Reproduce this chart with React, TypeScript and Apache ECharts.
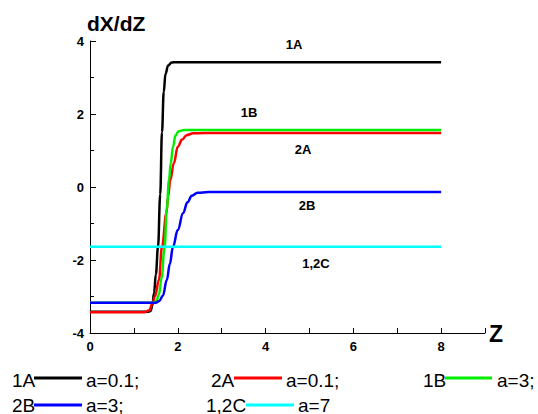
import React, { useEffect, useRef } from "react";
import * as echarts from "echarts";

const seriesNames = ["1A", "2A", "1B", "2B", "1,2C"];
const seriesColors = ["#000000", "#ff0000", "#00ee00", "#0000ff", "#00ffff"];
const paramLabels = ["a=0.1;", "a=0.1;", "a=3;", "a=3;", "a=7"];

const curve1A: number[][] = [
  [0, -3.42], [1.3, -3.42], [1.38, -3.4], [1.42, -3.25], [1.46, -2.9], [1.5, -2.4],
  [1.55, -1.64], [1.6, -0.2], [1.64, 1.5], [1.68, 2.6], [1.72, 3.1], [1.78, 3.33],
  [1.86, 3.41], [1.95, 3.42], [8, 3.42],
];
const curve2A: number[][] = [
  [0, -3.43], [1.25, -3.43], [1.35, -3.38], [1.42, -3.2], [1.48, -3.0], [1.57, -2.55],
  [1.64, -1.64], [1.74, -0.72], [1.78, -0.26], [1.83, 0.2], [1.91, 0.65], [2.0, 1.1],
  [2.1, 1.3], [2.2, 1.42], [2.35, 1.47], [2.6, 1.48], [8, 1.48],
];
const curve1B: number[][] = [
  [0, -3.17], [1.45, -3.17], [1.52, -3.1], [1.57, -2.95], [1.63, -2.5], [1.7, -1.64],
  [1.75, -0.6], [1.8, 0.2], [1.84, 0.65], [1.89, 1.1], [1.95, 1.42], [2.02, 1.53],
  [2.15, 1.56], [8, 1.56],
];
const curve2B: number[][] = [
  [0, -3.17], [1.5, -3.17], [1.58, -3.12], [1.66, -2.98], [1.75, -2.55], [1.82, -2.1],
  [1.89, -1.64], [2.0, -1.18], [2.12, -0.72], [2.22, -0.42], [2.32, -0.24], [2.45, -0.16],
  [2.7, -0.14], [8, -0.14],
];
const curve12C: number[][] = [[0, -1.64], [8, -1.64]];
const curves = [curve1A, curve2A, curve1B, curve2B, curve12C];

const xTickLabels = ["0", "2", "4", "6", "8"];
const yTickLabels = ["-4", "-2", "0", "2", "4"];

const FONT = "'Liberation Sans', Arial, sans-serif";

// in-plot curve labels: [text, x, y]
const plotLabels: [string, number, number][] = [
  ["1A", 294, 44],
  ["1B", 249, 112],
  ["2A", 303, 149],
  ["2B", 307, 205],
  ["1,2C", 316, 263],
];

// legend layout: series index, name x, line x1, line x2, param x, row
const legendLayout: [number, number, number, number, number, number][] = [
  [0, 12, 34, 82, 86, 0],
  [1, 211, 234, 282, 286, 0],
  [2, 423, 445, 492, 497, 0],
  [3, 12, 34, 82, 86, 1],
  [4, 206, 246, 294, 298, 1],
];

export default function App() {
  const ref = useRef<HTMLDivElement>(null);
  useEffect(() => {
    if (!ref.current) return;
    const chart = echarts.init(ref.current, null, { renderer: "svg" });
    const rowMid = [380, 405];
    const rowLine = [378, 405];
    const graphic: any[] = [];
    graphic.push({
      type: "text",
      left: 87,
      top: 13,
      style: { text: "dX/dZ", font: `bold 21px ${FONT}`, fill: "#000" },
    });
    graphic.push({
      type: "text",
      left: 489,
      top: 322,
      style: { text: "Z", font: `bold 23px ${FONT}`, fill: "#000" },
    });
    plotLabels.forEach(([t, x, y]) => {
      graphic.push({
        type: "text",
        x,
        y,
        style: {
          text: t,
          font: `bold 13px ${FONT}`,
          fill: "#000",
          align: "center",
          verticalAlign: "middle",
        },
      });
    });
    legendLayout.forEach(([i, nx, l1, l2, px, row]) => {
      graphic.push({
        type: "text",
        x: nx,
        y: rowMid[row],
        style: {
          text: seriesNames[i],
          font: `19px ${FONT}`,
          fill: "#000",
          verticalAlign: "middle",
        },
      });
      graphic.push({
        type: "line",
        shape: { x1: l1, y1: rowLine[row], x2: l2, y2: rowLine[row] },
        style: { stroke: seriesColors[i], lineWidth: 3 },
      });
      graphic.push({
        type: "text",
        x: px,
        y: rowMid[row],
        style: {
          text: paramLabels[i],
          font: `19px ${FONT}`,
          fill: "#000",
          verticalAlign: "middle",
        },
      });
    });

    chart.setOption({
      animation: false,
      backgroundColor: "#ffffff",
      grid: { left: 90, top: 41, width: 395, height: 292 },
      xAxis: {
        type: "value",
        min: 0,
        max: 9,
        interval: 1,
        splitLine: { show: false },
        axisLine: { onZero: false, lineStyle: { color: "#000", width: 1 } },
        axisTick: { inside: true, length: 5, lineStyle: { color: "#000" } },
        axisLabel: {
          margin: 7,
          color: "#000",
          fontFamily: FONT,
          fontWeight: "bold",
          fontSize: 13,
          formatter: (v: number) => (xTickLabels.includes(String(v)) ? String(v) : ""),
        },
      },
      yAxis: {
        type: "value",
        min: -4,
        max: 4,
        interval: 2,
        splitLine: { show: false },
        axisLine: { show: true, onZero: false, lineStyle: { color: "#000", width: 1 } },
        axisTick: { show: true, inside: true, length: 6, lineStyle: { color: "#000" } },
        minorTick: { show: true, splitNumber: 2, length: 4, lineStyle: { color: "#000" } },
        minorSplitLine: { show: false },
        axisLabel: {
          margin: 6,
          color: "#000",
          fontFamily: FONT,
          fontWeight: "bold",
          fontSize: 13,
          formatter: (v: number) => (yTickLabels.includes(String(v)) ? String(v) : ""),
        },
      },
      series: curves.map((d, i) => ({
        name: seriesNames[i],
        type: "line",
        data: d,
        showSymbol: false,
        smooth: 0.4,
        smoothMonotone: "x",
        lineStyle: { color: seriesColors[i], width: 2.5 },
        z: 2 + i,
      })),
      graphic,
    });
    return () => chart.dispose();
  }, []);
  return (
    <div
      ref={ref}
      style={{ position: "fixed", left: 0, top: 0, width: 538, height: 414 }}
    />
  );
}
